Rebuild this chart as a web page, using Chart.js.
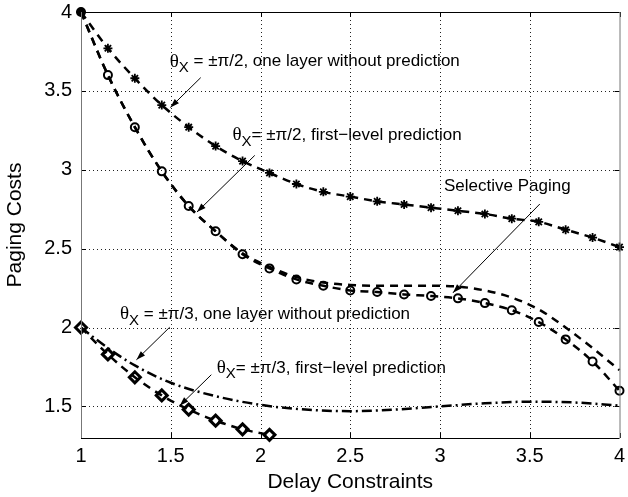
<!DOCTYPE html>
<html>
<head>
<meta charset="utf-8">
<script src="https://cdn.jsdelivr.net/npm/chart.js@4"></script>
<style>
  html, body { margin: 0; padding: 0; background: #fff; }
  #wrap { width: 628px; height: 497px; }
</style>
</head>
<body>
<div id="wrap"><canvas id="chart"></canvas></div>
<script>
// delay constraint grid used by the marked curves
const xMarked = [1, 1.15, 1.3, 1.45, 1.6, 1.75, 1.9, 2.05, 2.2, 2.35, 2.5, 2.65, 2.8, 2.95, 3.1, 3.25, 3.4, 3.55, 3.7, 3.85, 4];

// theta = +-pi/2, one layer without prediction (asterisks)
const halfPiNoPred = [4.0, 3.77, 3.58, 3.41, 3.27, 3.15, 3.055, 2.98, 2.91, 2.86, 2.83, 2.80, 2.78, 2.76, 2.74, 2.72, 2.69, 2.67, 2.62, 2.57, 2.51];
// theta = +-pi/2, first-level prediction (circles)
const halfPiFirstLevel = [4.0, 3.60, 3.27, 2.99, 2.77, 2.61, 2.465, 2.375, 2.305, 2.265, 2.235, 2.225, 2.21, 2.20, 2.185, 2.155, 2.11, 2.035, 1.925, 1.785, 1.60];
// selective paging (plain dashed)
const selectivePaging = [4.0, 3.60, 3.27, 2.99, 2.77, 2.61, 2.47, 2.385, 2.32, 2.285, 2.27, 2.265, 2.265, 2.265, 2.26, 2.235, 2.19, 2.115, 2.0, 1.87, 1.73];

// theta = +-pi/3, one layer without prediction (dash-dot)
const thirdPiNoPredX = [1, 1.15, 1.3, 1.5, 1.75, 2, 2.25, 2.5, 2.75, 3, 3.25, 3.5, 3.75, 4];
const thirdPiNoPred = [2.0, 1.87, 1.76, 1.65, 1.565, 1.51, 1.48, 1.47, 1.48, 1.50, 1.52, 1.53, 1.525, 1.505];
// theta = +-pi/3, first-level prediction (diamonds)
const thirdPiFirstLevelX = [1, 1.15, 1.3, 1.45, 1.6, 1.75, 1.9, 2.05];
const thirdPiFirstLevel = [2.0, 1.83, 1.685, 1.57, 1.48, 1.41, 1.355, 1.32];

const xTicks = [1, 1.5, 2, 2.5, 3, 3.5, 4];
const yTicks = [1.5, 2, 2.5, 3, 3.5, 4];

// annotation text with anchor and arrow, in data coordinates
const notes = [
  { pre: "θ", sub: "X", text: " = ±π/2, one layer without prediction", at: [1.494, 3.685], from: [1.667, 3.584], to: [1.498, 3.395] },
  { pre: "θ", sub: "X", text: "= ±π/2, first\u2212level prediction", at: [1.844, 3.218], from: [1.968, 3.091], to: [1.646, 2.732] },
  { pre: "", sub: "", text: "Selective Paging", at: [3.022, 2.894], from: [3.556, 2.783], to: [3.072, 2.22] },
  { pre: "θ", sub: "X", text: " = ±π/3, one layer without prediction", at: [1.217, 2.083], from: [1.494, 2.002], to: [1.309, 1.796] },
  { pre: "θ", sub: "X", text: "= ±π/3, first\u2212level prediction", at: [1.756, 1.743], from: [1.726, 1.701], to: [1.55, 1.505] }
];

const FONT = "'Liberation Sans', Arial, Helvetica, sans-serif";
const pts = (xs, ys) => xs.map((x, i) => ({ x: x, y: ys[i] }));

function arrowHead(ctx, x1, y1, x2, y2) {
  const ang = Math.atan2(y2 - y1, x2 - x1);
  const len = 9, w = 3;
  ctx.beginPath();
  ctx.moveTo(x2, y2);
  ctx.lineTo(x2 - len * Math.cos(ang) + w * Math.sin(ang), y2 - len * Math.sin(ang) - w * Math.cos(ang));
  ctx.lineTo(x2 - len * Math.cos(ang) - w * Math.sin(ang), y2 - len * Math.sin(ang) + w * Math.cos(ang));
  ctx.closePath();
  ctx.fill();
}

const framePlugin = {
  id: "frame",
  beforeDatasetsDraw(chart) {
    // dotted grid
    const { ctx, chartArea: a, scales: { x, y } } = chart;
    ctx.save();
    ctx.strokeStyle = "#222";
    ctx.lineWidth = 1;
    ctx.setLineDash([1, 3]);
    ctx.beginPath();
    xTicks.slice(1, -1).forEach(v => {
      const px = Math.round(x.getPixelForValue(v)) + 0.5;
      ctx.moveTo(px, a.top); ctx.lineTo(px, a.bottom);
    });
    yTicks.slice(0, -1).forEach(v => {
      const py = Math.round(y.getPixelForValue(v)) + 0.5;
      ctx.moveTo(a.left, py); ctx.lineTo(a.right, py);
    });
    ctx.stroke();
    ctx.restore();
  },
  afterDraw(chart) {
    const { ctx, chartArea: a, scales: { x, y } } = chart;
    ctx.save();
    ctx.strokeStyle = "#000";
    ctx.lineWidth = 1;
    ctx.setLineDash([]);
    // inward tick marks
    ctx.beginPath();
    xTicks.forEach(v => {
      const px = Math.round(x.getPixelForValue(v)) + 0.5;
      ctx.moveTo(px, a.bottom); ctx.lineTo(px, a.bottom - 5);
      ctx.moveTo(px, a.top); ctx.lineTo(px, a.top + 5);
    });
    yTicks.forEach(v => {
      const py = Math.round(y.getPixelForValue(v)) + 0.5;
      ctx.moveTo(a.left, py); ctx.lineTo(a.left + 5, py);
      ctx.moveTo(a.right, py); ctx.lineTo(a.right - 5, py);
    });
    ctx.stroke();
    // box
    ctx.beginPath();
    ctx.moveTo(a.left, a.top + 0.5); ctx.lineTo(a.right, a.top + 0.5);
    ctx.moveTo(a.left, a.bottom + 0.5); ctx.lineTo(a.right, a.bottom + 0.5);
    ctx.stroke();
    ctx.strokeStyle = "#777";
    ctx.beginPath();
    ctx.moveTo(a.left + 0.5, a.top); ctx.lineTo(a.left + 0.5, a.bottom);
    ctx.moveTo(a.right + 0.5, a.top); ctx.lineTo(a.right + 0.5, a.bottom);
    ctx.stroke();

    // annotations
    ctx.fillStyle = "#000";
    ctx.strokeStyle = "#000";
    ctx.textBaseline = "middle";
    ctx.textAlign = "left";
    notes.forEach(n => {
      let tx = x.getPixelForValue(n.at[0]);
      const ty = y.getPixelForValue(n.at[1]);
      if (n.pre) {
        ctx.font = "19px 'Liberation Serif', 'Times New Roman', serif";
        ctx.fillText(n.pre, tx, ty);
        tx += ctx.measureText(n.pre).width;
        ctx.font = "15px " + FONT;
        ctx.fillText(n.sub, tx, ty + 6);
        tx += ctx.measureText(n.sub).width;
      }
      ctx.font = "17px " + FONT;
      ctx.fillText(n.text, tx, ty);
      const x1 = x.getPixelForValue(n.from[0]), y1 = y.getPixelForValue(n.from[1]);
      const x2 = x.getPixelForValue(n.to[0]), y2 = y.getPixelForValue(n.to[1]);
      ctx.lineWidth = 1;
      ctx.beginPath();
      ctx.moveTo(x1, y1); ctx.lineTo(x2, y2);
      ctx.stroke();
      arrowHead(ctx, x1, y1, x2, y2);
    });
    ctx.restore();
  }
};

const lineBase = {
  borderColor: "#000",
  borderWidth: 2.5,
  cubicInterpolationMode: "monotone",
  clip: false,
  pointBorderColor: "#000",
  pointBackgroundColor: "rgba(0,0,0,0)"
};

new Chart(document.getElementById("chart"), {
  type: "line",
  data: {
    datasets: [
      Object.assign({}, lineBase, {
        label: "Selective Paging",
        data: pts(xMarked, selectivePaging),
        borderDash: [8, 6],
        pointRadius: 0
      }),
      Object.assign({}, lineBase, {
        label: "θx = ±π/2, one layer without prediction",
        data: pts(xMarked, halfPiNoPred),
        borderDash: [8, 6],
        pointStyle: "star",
        pointRadius: 4.5,
        pointBorderWidth: 1.8
      }),
      Object.assign({}, lineBase, {
        label: "θx = ±π/2, first-level prediction",
        data: pts(xMarked, halfPiFirstLevel),
        borderDash: [8, 6],
        pointStyle: "circle",
        pointRadius: 4,
        pointBorderWidth: 2,
        pointBackgroundColor: xMarked.map((v, i) => i === 0 ? "#000" : "rgba(0,0,0,0)")
      }),
      Object.assign({}, lineBase, {
        label: "θx = ±π/3, one layer without prediction",
        data: pts(thirdPiNoPredX, thirdPiNoPred),
        borderDash: [10, 4, 2, 4],
        pointRadius: 0
      }),
      Object.assign({}, lineBase, {
        label: "θx = ±π/3, first-level prediction",
        data: pts(thirdPiFirstLevelX, thirdPiFirstLevel),
        borderDash: [8, 6],
        pointStyle: "rectRot",
        pointRadius: 5.5,
        pointBorderWidth: 3
      })
    ]
  },
  options: {
    responsive: true,
    maintainAspectRatio: false,
    animation: false,
    layout: { padding: { top: 12, right: 7, left: 0, bottom: 0 } },
    plugins: { legend: { display: false }, tooltip: { enabled: false } },
    scales: {
      x: {
        type: "linear",
        min: 1,
        max: 4,
        afterFit: s => { s.height = 59; s.paddingLeft = 0; s.paddingRight = 0; },
        afterBuildTicks: s => { s.ticks = xTicks.map(v => ({ value: v })); },
        ticks: { color: "#000", font: { family: FONT, size: 20 }, padding: 6, maxRotation: 0, callback: v => String(v) },
        grid: { display: false, drawTicks: false },
        border: { display: false },
        title: { display: true, text: "Delay Constraints", color: "#000", font: { family: FONT, size: 21 }, padding: { top: 0, bottom: 2 } }
      },
      y: {
        type: "linear",
        min: 1.3,
        max: 4,
        afterFit: s => { s.width = 81; s.paddingTop = 0; s.paddingBottom = 0; },
        afterBuildTicks: s => { s.ticks = yTicks.map(v => ({ value: v })); },
        ticks: { color: "#000", font: { family: FONT, size: 20 }, padding: 9, callback: v => String(v) },
        grid: { display: false, drawTicks: false },
        border: { display: false },
        title: { display: true, text: "Paging Costs", color: "#000", font: { family: FONT, size: 21 }, padding: { top: 3, bottom: 0 } }
      }
    }
  },
  plugins: [framePlugin]
});
</script>
</body>
</html>
